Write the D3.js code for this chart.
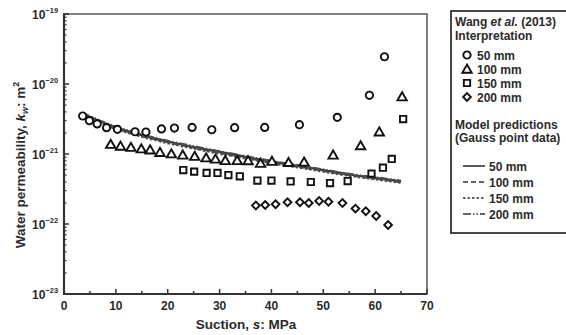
<!DOCTYPE html>
<html>
<head>
<meta charset="utf-8">
<script src="https://cdn.jsdelivr.net/npm/d3@7"></script>
<style>
  body { margin: 0; background: #fff; }
  text { font-family: "Liberation Sans", Arial, sans-serif; font-weight: bold; fill: #2a2a2a; }
</style>
</head>
<body>
<svg id="chart" width="566" height="335"></svg>
<script>
// measured data (Wang et al. 2013), suction in MPa, permeability in m^2
const s50 = [3.6, 4.9, 6.4, 8.2, 10.3, 13.7, 15.8, 18.8, 21.3, 24.7, 28.5, 32.9, 38.7, 45.4, 52.7, 58.9, 61.8];
const k50 = [3.49e-21, 2.99e-21, 2.69e-21, 2.38e-21, 2.25e-21, 2.08e-21, 2.06e-21, 2.28e-21, 2.35e-21, 2.40e-21, 2.22e-21, 2.38e-21, 2.40e-21, 2.62e-21, 3.34e-21, 6.9e-21, 2.45e-20];

const s100 = [9.0, 10.9, 12.9, 14.9, 16.6, 18.5, 20.7, 22.9, 25.2, 27.4, 29.2, 31.1, 33.4, 35.5, 37.9, 40.1, 43.3, 46.3, 51.9, 57.2, 60.8, 65.2];
const k100 = [1.38e-21, 1.30e-21, 1.25e-21, 1.19e-21, 1.15e-21, 1.06e-21, 1.01e-21, 9.7e-22, 9.3e-22, 8.85e-22, 8.5e-22, 8.1e-22, 8.1e-22, 8.07e-22, 7.4e-22, 7.9e-22, 7.6e-22, 7.7e-22, 9.7e-22, 1.32e-21, 2.08e-21, 6.6e-21];

const s150 = [23.0, 25.1, 27.5, 29.6, 31.7, 33.9, 37.3, 40.0, 43.7, 47.6, 51.3, 54.7, 59.3, 61.5, 63.2, 65.4];
const k150 = [5.9e-22, 5.6e-22, 5.36e-22, 5.36e-22, 5.0e-22, 4.8e-22, 4.18e-22, 4.18e-22, 4.05e-22, 3.98e-22, 3.85e-22, 4.11e-22, 5.24e-22, 6.37e-22, 8.5e-22, 3.16e-21];

const s200 = [37.0, 38.8, 40.8, 43.1, 45.5, 47.2, 49.2, 51.0, 53.7, 56.2, 58.2, 60.2, 62.5];
const k200 = [1.84e-22, 1.87e-22, 1.92e-22, 2.05e-22, 2.05e-22, 2.0e-22, 2.13e-22, 2.08e-22, 2.0e-22, 1.66e-22, 1.52e-22, 1.30e-22, 9.7e-23];

// model predictions (Gauss point data)
const sModel = [3.5, 5, 7.5, 10, 15, 20, 25, 30, 35, 40, 45, 50, 55, 60, 65];
const kModel50 = [3.8e-21, 3.39e-21, 2.82e-21, 2.40e-21, 1.86e-21, 1.51e-21, 1.26e-21, 1.07e-21, 9.1e-22, 7.8e-22, 6.8e-22, 5.9e-22, 5.1e-22, 4.57e-22, 4.07e-22];
const kModel100 = [3.7e-21, 3.3e-21, 2.75e-21, 2.33e-21, 1.81e-21, 1.47e-21, 1.23e-21, 1.04e-21, 8.9e-22, 7.6e-22, 6.6e-22, 5.75e-22, 5.0e-22, 4.45e-22, 3.97e-22];
const kModel150 = [3.6e-21, 3.2e-21, 2.68e-21, 2.27e-21, 1.77e-21, 1.43e-21, 1.2e-21, 1.01e-21, 8.65e-22, 7.4e-22, 6.45e-22, 5.6e-22, 4.88e-22, 4.35e-22, 3.88e-22];
const kModel200 = [3.9e-21, 3.46e-21, 2.88e-21, 2.45e-21, 1.9e-21, 1.54e-21, 1.29e-21, 1.09e-21, 9.3e-22, 7.95e-22, 6.95e-22, 6.0e-22, 5.2e-22, 4.65e-22, 4.15e-22];

const xTicks = [0, 10, 20, 30, 40, 50, 60, 70];
const yExponents = [-19, -20, -21, -22, -23];
const seriesLabels = ["50 mm", "100 mm", "150 mm", "200 mm"];

const svg = d3.select("#chart");
const plotLeft = 64, plotRight = 427, plotTop = 14, plotBottom = 294;

const xScale = d3.scaleLinear().domain([0, 70]).range([plotLeft, plotRight]);
const yScale = d3.scaleLog().domain([1e-23, 1e-19]).range([plotBottom, plotTop]);

// frame: top/right lighter, left/bottom heavier
svg.append("rect")
  .attr("x", plotLeft).attr("y", plotTop)
  .attr("width", plotRight - plotLeft).attr("height", plotBottom - plotTop)
  .attr("fill", "none").attr("stroke", "#555").attr("stroke-width", 1.5);

// x axis ticks (inside)
const xMinor = d3.range(5, 70, 10);
svg.selectAll(".x-minor").data(xMinor).enter().append("line")
  .attr("x1", d => xScale(d)).attr("x2", d => xScale(d))
  .attr("y1", plotBottom).attr("y2", plotBottom - 3)
  .attr("stroke", "#333").attr("stroke-width", 1.5);
svg.selectAll(".x-major").data(xTicks).enter().append("line")
  .attr("x1", d => xScale(d)).attr("x2", d => xScale(d))
  .attr("y1", plotBottom).attr("y2", plotBottom - 5)
  .attr("stroke", "#333").attr("stroke-width", 1.5);
svg.selectAll(".x-label").data(xTicks).enter().append("text")
  .attr("x", d => xScale(d)).attr("y", plotBottom + 16)
  .attr("text-anchor", "middle").attr("font-size", 12)
  .text(d => d);

// y axis ticks (log minor + major)
const yMinor = [];
[-23, -22, -21, -20].forEach(e => d3.range(2, 10).forEach(m => yMinor.push(m * Math.pow(10, e))));
svg.selectAll(".y-minor").data(yMinor).enter().append("line")
  .attr("x1", plotLeft).attr("x2", plotLeft + 2.5)
  .attr("y1", d => yScale(d)).attr("y2", d => yScale(d))
  .attr("stroke", "#333").attr("stroke-width", 1.2);
svg.selectAll(".y-major").data(yExponents).enter().append("line")
  .attr("x1", plotLeft - 1).attr("x2", plotLeft + 5)
  .attr("y1", d => yScale(Math.pow(10, d))).attr("y2", d => yScale(Math.pow(10, d)))
  .attr("stroke", "#333").attr("stroke-width", 1.5);

const yLab = svg.selectAll(".y-label").data(yExponents).enter().append("text")
  .attr("x", 32).attr("y", d => yScale(Math.pow(10, d)) + 5)
  .attr("font-size", 12);
yLab.append("tspan").text("10");
yLab.append("tspan").attr("dy", -6).attr("font-size", 7.5).text(d => "\u2212" + (-d));

// heavier left and bottom axis lines
svg.append("line").attr("x1", plotLeft).attr("x2", plotLeft).attr("y1", plotTop).attr("y2", plotBottom + 1)
  .attr("stroke", "#333").attr("stroke-width", 2.2);
svg.append("line").attr("x1", plotLeft - 1).attr("x2", plotRight).attr("y1", plotBottom).attr("y2", plotBottom)
  .attr("stroke", "#333").attr("stroke-width", 2.2);

// axis titles
const xt = svg.append("text").attr("x", 246).attr("y", 329)
  .attr("text-anchor", "middle").attr("font-size", 13.5);
xt.append("tspan").text("Suction, ");
xt.append("tspan").attr("font-style", "italic").text("s");
xt.append("tspan").text(": MPa");

const yt = svg.append("text")
  .attr("transform", "translate(25,165) rotate(-90)")
  .attr("text-anchor", "middle").attr("font-size", 13.5);
yt.append("tspan").text("Water permeability, ");
yt.append("tspan").attr("font-style", "italic").text("k");
yt.append("tspan").attr("dy", 3).attr("font-size", 9).attr("font-style", "italic").text("w");
yt.append("tspan").attr("dy", -3).text(": m");
yt.append("tspan").attr("dy", -6).attr("font-size", 9).text("2");

// model prediction lines
const lineStyles = [null, "5,3", "2.5,2", "8,2,1.5,2,1.5,2"];
const modelData = [kModel50, kModel100, kModel150, kModel200];
const line = d3.line()
  .x(d => xScale(d[0]))
  .y(d => yScale(d[1]))
  .curve(d3.curveMonotoneX);

modelData.forEach((ks, i) => {
  svg.append("path")
    .datum(sModel.map((s, j) => [s, ks[j]]))
    .attr("fill", "none")
    .attr("stroke", i === 0 ? "#333" : "#4a4a4a")
    .attr("stroke-width", 2.2)
    .attr("stroke-dasharray", lineStyles[i])
    .attr("d", line);
});

// markers: circle, triangle, square, diamond (square turned 45deg)
const symbols = [d3.symbolCircle, d3.symbolTriangle, d3.symbolSquare, d3.symbolSquare];
const symbolSizes = [42, 38, 40, 30];
const symbolRotate = [0, 0, 0, 45];
const symbolShift = [0, 1, 0, 0];
const measured = [[s50, k50], [s100, k100], [s150, k150], [s200, k200]];

measured.forEach(([ss, ks], i) => {
  const sym = d3.symbol().type(symbols[i]).size(symbolSizes[i]);
  svg.selectAll(".m" + i).data(ss.map((s, j) => [s, ks[j]])).enter().append("path")
    .attr("d", sym)
    .attr("transform", d => `translate(${xScale(d[0])},${yScale(d[1]) + symbolShift[i]}) rotate(${symbolRotate[i]})`)
    .attr("fill", "#fff").attr("stroke", "#111").attr("stroke-width", 1.9);
});

// legend
const lg = svg.append("g");
const fs = 12;
lg.append("rect").attr("x", 451).attr("y", 11).attr("width", 130).attr("height", 222)
  .attr("fill", "#fff").attr("stroke", "#333").attr("stroke-width", 1.8);

const head = lg.append("text").attr("x", 455).attr("y", 26).attr("font-size", fs);
head.append("tspan").text("Wang ");
head.append("tspan").attr("font-style", "italic").text("et al.");
head.append("tspan").text(" (2013)");
lg.append("text").attr("x", 455).attr("y", 40).attr("font-size", fs).text("Interpretation");

const symRows = [55, 69, 83, 97];
seriesLabels.forEach((lab, i) => {
  lg.append("path")
    .attr("d", d3.symbol().type(symbols[i]).size(symbolSizes[i])())
    .attr("transform", `translate(467,${symRows[i] + symbolShift[i]}) rotate(${symbolRotate[i]})`)
    .attr("fill", "#fff").attr("stroke", "#111").attr("stroke-width", 1.9);
  lg.append("text").attr("x", 477).attr("y", symRows[i] + 4.5).attr("font-size", fs).text(lab);
});

lg.append("text").attr("x", 455).attr("y", 129).attr("font-size", fs).text("Model predictions");
lg.append("text").attr("x", 455).attr("y", 142).attr("font-size", fs).text("(Gauss point data)");

const lineRows = [166, 182, 198, 214];
seriesLabels.forEach((lab, i) => {
  lg.append("line").attr("x1", 463).attr("x2", 485)
    .attr("y1", lineRows[i]).attr("y2", lineRows[i])
    .attr("stroke", "#333").attr("stroke-width", 1.6)
    .attr("stroke-dasharray", lineStyles[i]);
  lg.append("text").attr("x", 489).attr("y", lineRows[i] + 4.5).attr("font-size", fs).text(lab);
});
</script>
</body>
</html>
